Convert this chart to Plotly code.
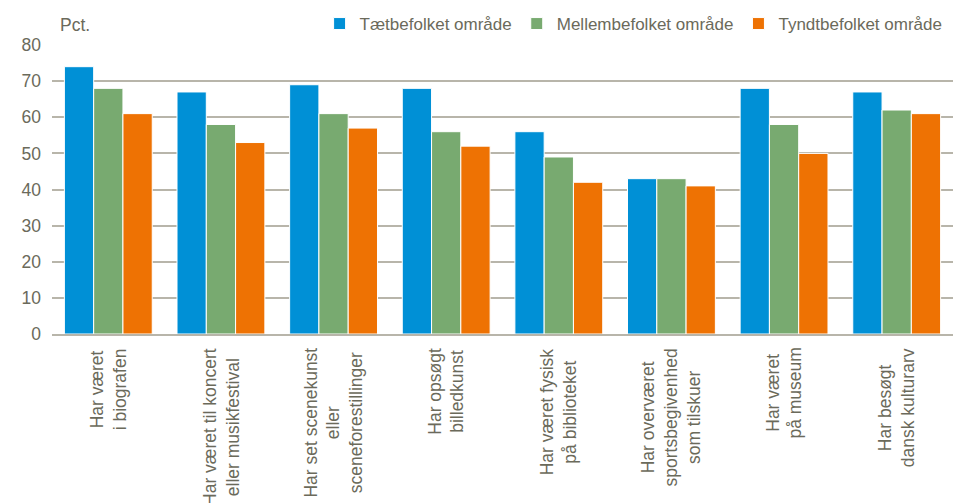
import plotly.graph_objects as go

categories = [
    "Har været<br>i biografen",
    "Har været til koncert<br>eller musikfestival",
    "Har set scenekunst<br>eller<br>sceneforestillinger",
    "Har opsøgt<br>billedkunst",
    "Har været fysisk<br>på biblioteket",
    "Har overværet<br>sportsbegivenhed<br>som tilskuer",
    "Har været<br>på museum",
    "Har besøgt<br>dansk kulturarv",
]
series_names = ["Tætbefolket område", "Mellembefolket område", "Tyndtbefolket område"]
taet = [74, 67, 69, 68, 56, 43, 68, 67]
mellem = [68, 58, 61, 56, 49, 43, 58, 62]
tyndt = [61, 53, 57, 52, 42, 41, 50, 61]
y_ticks = [0, 10, 20, 30, 40, 50, 60, 70, 80]

colors = ["#0090d6", "#78aa70", "#ee7203"]
text_color = "#6b6a5b"
grid_color = "#b8b5aa"
font_family = "Liberation Sans, Arial, sans-serif"
fs = 17.5

x_idx = list(range(len(categories)))

fig = go.Figure()
for name, vals, col in zip(series_names, [taet, mellem, tyndt], colors):
    fig.add_trace(go.Bar(
        x=x_idx, y=vals, name=name,
        marker=dict(color=col, line=dict(color="white", width=1)),
    ))

for i, lab in enumerate(categories):
    fig.add_annotation(
        x=i, y=0, xref="x", yref="paper",
        text=lab, textangle=-90, showarrow=False,
        xanchor="center", yanchor="top", yshift=-12, align="center",
        font=dict(family=font_family, size=fs, color=text_color),
    )

fig.add_annotation(
    x=0, y=1, xref="paper", yref="paper", xshift=6, yshift=8,
    text="Pct.", showarrow=False, xanchor="left", yanchor="bottom",
    font=dict(family=font_family, size=fs, color=text_color),
)

W, H = 956, 495
fig.update_layout(
    width=W, height=H,
    margin=dict(l=44, r=11, t=37, b=169, autoexpand=False),
    paper_bgcolor="white", plot_bgcolor="white",
    barmode="group", bargap=0.22, bargroupgap=0.0,
    font=dict(family=font_family, size=fs, color=text_color),
    showlegend=True,
    legend=dict(
        orientation="h", x=0.297, xanchor="left",
        yref="container", y=1 - 16 / H, yanchor="middle",
        font=dict(family=font_family, size=17, color=text_color),
        itemwidth=30, bgcolor="rgba(0,0,0,0)",
    ),
    xaxis=dict(
        range=[-0.5, len(categories) - 0.5],
        showticklabels=False, showgrid=False, zeroline=False,
        showline=True, linecolor=grid_color, linewidth=2, ticks="",
    ),
    yaxis=dict(
        range=[0, 80], tickvals=y_ticks, showgrid=True, gridcolor=grid_color,
        gridwidth=1.5, zeroline=False, showline=False, ticks="",
        ticklabelstandoff=10,
        tickfont=dict(family=font_family, size=fs, color=text_color),
    ),
)

fig.write_html("out.html")
